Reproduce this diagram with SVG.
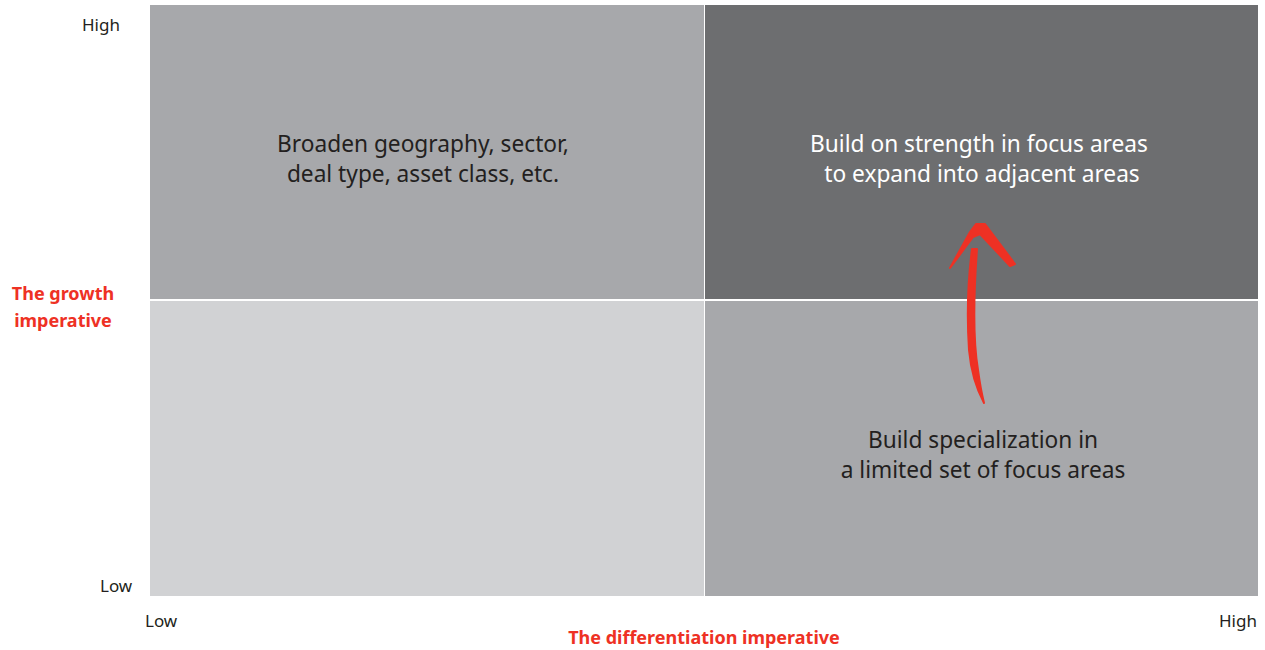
<svg xmlns="http://www.w3.org/2000/svg" width="1265" height="650" viewBox="0 0 1265 650">
<style>
.q{font-family:"Noto Sans","Liberation Sans",sans-serif;font-size:22.7px;font-weight:400;text-anchor:middle}
.ax{font-family:"Noto Sans","Liberation Sans",sans-serif;font-size:17px;fill:#231f20}
.red{font-family:"Noto Sans","Liberation Sans",sans-serif;font-size:18px;font-weight:bold;fill:#ee3124;text-anchor:middle}
</style>
<rect width="1265" height="650" fill="#ffffff"/>
<g id="q-top-left"><rect x="150" y="5" width="554" height="294" fill="#a7a8ab"/>
<text class="q" fill="#231f20" x="423" y="152">Broaden geography, sector,</text>
<text class="q" fill="#231f20" x="423" y="182">deal type, asset class, etc.</text></g>
<g id="q-top-right"><rect x="705" y="5" width="553" height="294" fill="#6d6e70"/>
<text class="q" fill="#ffffff" x="979" y="152">Build on strength in focus areas</text>
<text class="q" fill="#ffffff" x="982" y="182">to expand into adjacent areas</text></g>
<g id="q-bottom-left"><rect x="150" y="301" width="554" height="295" fill="#d1d2d4"/></g>
<g id="q-bottom-right"><rect x="705" y="301" width="553" height="295" fill="#a7a8ab"/>
<text class="q" fill="#231f20" x="983" y="448">Build specialization in</text>
<text class="q" fill="#231f20" x="983" y="478">a limited set of focus areas</text></g>
<g id="axis-labels">
<text class="ax" x="82" y="31">High</text>
<text class="ax" x="100" y="592">Low</text>
<text class="ax" x="145" y="627">Low</text>
<text class="ax" x="1219" y="627">High</text>
<text class="red" x="63" y="300">The growth</text>
<text class="red" x="63" y="327">imperative</text>
<text class="red" x="704" y="644">The differentiation imperative</text>
</g>
<g id="connectors">
<path d="M977,249 C974,290 973,340 978,370 C980,385 982,395 984,403 C977,390 971,372 969,350 C967,320 968,280 972,249 Z" fill="#ee3124" stroke="#ee3124" stroke-width="2" stroke-linejoin="round"/>
<path d="M950,268 L970,232 L976,224 L985,224 L1015,264 L1010,266 L980,234 L973,237 Z" fill="#ee3124" stroke="#ee3124" stroke-width="2" stroke-linejoin="round"/>
</g>
</svg>
